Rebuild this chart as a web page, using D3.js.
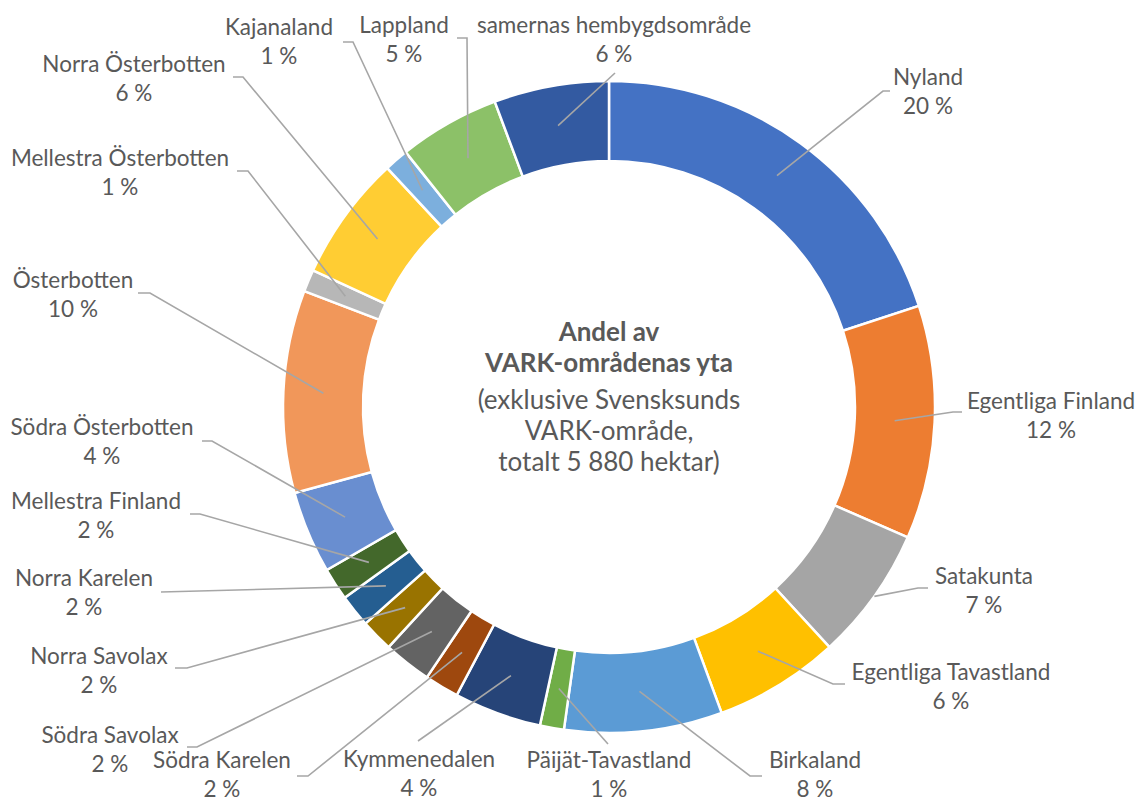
<!DOCTYPE html>
<html>
<head>
<meta charset="utf-8">
<script src="https://cdn.jsdelivr.net/npm/d3@7"></script>
<style>
  body { margin: 0; background: #fff; }
  text { font-family: Lato, 'Open Sans', sans-serif; fill: #595959; }
</style>
</head>
<body>
<div id="chart"></div>
<script>
// regions in drawing order, clockwise from 12 o'clock
const regions = ['Nyland', 'Egentliga Finland', 'Satakunta', 'Egentliga Tavastland', 'Birkaland',
  'Päijät-Tavastland', 'Kymmenedalen', 'Södra Karelen', 'Södra Savolax', 'Norra Savolax',
  'Norra Karelen', 'Mellestra Finland', 'Södra Österbotten', 'Österbotten', 'Mellestra Österbotten',
  'Norra Österbotten', 'Kajanaland', 'Lappland', 'samernas hembygdsområde'];
// area in hectares (total 5 880)
const hectares = [1175, 680, 390, 365, 460, 70, 255, 100, 140, 95, 95, 95, 240, 590, 65, 365, 70, 295, 335];
const titleLines = ['Andel av', 'VARK-områdenas yta'];
const noteLines = ['(exklusive Svensksunds', 'VARK-område,', 'totalt 5 880 hektar)'];

const palette = ['#4472c4', '#ed7d31', '#a5a5a5', '#ffc000', '#5b9bd5', '#70ad47', '#264478', '#9e480e',
  '#636363', '#997300', '#255e91', '#43682b', '#698ed0', '#f1975a', '#b7b7b7', '#ffcd33', '#7cafdd',
  '#8cc168', '#335aa1'];

// hand placed labels, like the dragged labels in the original:
// [label centre x, label centre y, elbow x, elbow y, end x, start on outer edge?]
const labelPos = {
  'Nyland': [928, 91, 883, 91, 890],
  'Egentliga Finland': [1051, 415, 953, 412, 962],
  'Satakunta': [984, 590, 918, 588, 928, true],
  'Egentliga Tavastland': [951, 686, 833, 684, 845],
  'Birkaland': [815, 774, 750, 776, 762],
  'Päijät-Tavastland': [609, 774, 608, 744, 608],
  'Kymmenedalen': [419, 773, 418, 741, 418],
  'Södra Karelen': [222, 774, 308, 776, 297],
  'Södra Savolax': [110, 749, 197, 747, 187],
  'Norra Savolax': [99, 670, 187, 668, 175],
  'Norra Karelen': [84, 592, 161, 592, 161],
  'Mellestra Finland': [96, 515, 200, 514, 190],
  'Södra Österbotten': [102, 441, 212, 441, 202],
  'Österbotten': [73, 294, 150, 293, 138],
  'Mellestra Österbotten': [120, 172, 248, 171, 237],
  'Norra Österbotten': [134, 78, 243, 77, 233],
  'Kajanaland': [279, 41, 353, 42, 343],
  'Lappland': [404, 39, 467, 38, 457],
  'samernas hembygdsområde': [614, 39, 615, 73, 615],
};

const svgwidth = 1137;
const svgheight = 803;
const cx = 609;
const cy = 407;
const outerR = 326;
const innerR = 246;

const data = regions.map((name, i) => ({ name, ha: hectares[i], color: palette[i] }));
const total = d3.sum(hectares);

const svg = d3.select('#chart').append('svg')
  .attr('width', svgwidth)
  .attr('height', svgheight);
svg.append('rect').attr('width', svgwidth).attr('height', svgheight).attr('fill', '#fff');

const g = svg.append('g').attr('transform', `translate(${cx},${cy})`);

const pie = d3.pie().sort(null).value(d => d.ha);
const arc = d3.arc().innerRadius(innerR).outerRadius(outerR);
const edgeArc = d3.arc().innerRadius(outerR).outerRadius(outerR);
const arcs = pie(data);

// ring
g.selectAll('.slice')
  .data(arcs)
  .enter()
  .append('path')
  .attr('class', 'slice')
  .attr('d', arc)
  .attr('fill', d => d.data.color)
  .attr('stroke', '#fff')
  .attr('stroke-width', 2.5);

// leader lines
const leader = d3.line();
svg.selectAll('.leader')
  .data(arcs)
  .enter()
  .append('path')
  .attr('class', 'leader')
  .attr('fill', 'none')
  .attr('stroke', '#a6a6a6')
  .attr('stroke-width', 1.6)
  .attr('d', (d) => {
    const p = labelPos[d.data.name];
    const c = (p[5] ? edgeArc : arc).centroid(d);
    return leader([[cx + c[0], cy + c[1]], [p[2], p[3]], [p[4], p[3]]]);
  });

// labels: name + rounded share
const labels = svg.selectAll('.label')
  .data(arcs)
  .enter()
  .append('text')
  .attr('class', 'label')
  .attr('text-anchor', 'middle')
  .attr('font-size', '22.5px');
labels.append('tspan')
  .attr('x', d => labelPos[d.data.name][0])
  .attr('y', d => labelPos[d.data.name][1] - 14.5)
  .attr('dominant-baseline', 'central')
  .text(d => d.data.name);
labels.append('tspan')
  .attr('x', d => labelPos[d.data.name][0])
  .attr('y', d => labelPos[d.data.name][1] + 14.5)
  .attr('dominant-baseline', 'central')
  .text(d => `${Math.round(d.data.ha / total * 100)} %`);

// centre text
const centre = svg.append('text')
  .attr('text-anchor', 'middle')
  .attr('font-size', '26px');
titleLines.forEach((t, i) => {
  centre.append('tspan')
    .attr('x', cx)
    .attr('y', 331 + i * 31)
    .attr('dominant-baseline', 'central')
    .attr('font-weight', 'bold')
    .text(t);
});
noteLines.forEach((t, i) => {
  centre.append('tspan')
    .attr('x', cx)
    .attr('y', 399 + i * 31)
    .attr('dominant-baseline', 'central')
    .text(t);
});
</script>
</body>
</html>
